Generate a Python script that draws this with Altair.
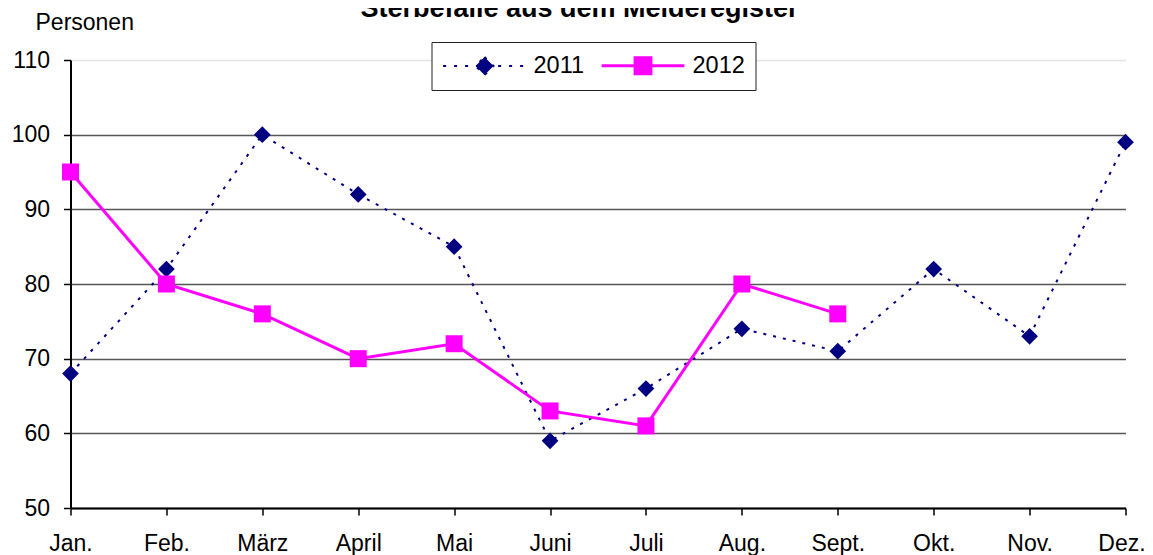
import altair as alt
import pandas as pd

months = ["Jan.", "Feb.", "März", "April", "Mai", "Juni", "Juli", "Aug.", "Sept.", "Okt.", "Nov.", "Dez."]
werte_2011 = [68, 82, 100, 92, 85, 59, 66, 74, 71, 82, 73, 99]
werte_2012 = [95, 80, 76, 70, 72, 63, 61, 80, 76]
years = ["2011", "2012"]
colors = ["#000080", "#FF00FF"]
y_ticks = [50, 60, 70, 80, 90, 100, 110]

rows = [{"Monat": m, "Jahr": "2011", "Wert": v} for m, v in zip(months, werte_2011)]
rows += [{"Monat": m, "Jahr": "2012", "Wert": v} for m, v in zip(months, werte_2012)]
df = pd.DataFrame(rows)

FONT = "Liberation Sans"

x = alt.X(
    "Monat:N",
    sort=months,
    scale=alt.Scale(type="point", padding=0, domain=months),
    axis=alt.Axis(
        title=None, labelAngle=0, labelFontSize=23, labelColor="black", labelFont=FONT,
        labelPadding=17, tickColor="black", tickSize=7, tickWidth=1.5,
        labelOffset={"condition": {"test": "datum.value === 'Dez.'", "value": -4}, "value": 0},
        domainColor="black", domainWidth=2, grid=False,
    ),
)
y = alt.Y(
    "Wert:Q",
    scale=alt.Scale(domain=[50, 110], nice=False, zero=False),
    axis=alt.Axis(
        values=y_ticks, title="Personen", titleAngle=0, titleAlign="left",
        titleBaseline="alphabetic", titleX=-35.5, titleY=-31, titleFontSize=23,
        titleFontWeight="normal", titleFont=FONT, titleColor="black",
        labelFontSize=23, labelFont=FONT, labelColor="black", labelPadding=14,
        tickColor="black", tickSize=7, tickWidth=1.5,
        domainColor="black", domainWidth=2,
        grid=True,
        gridColor={"condition": {"test": "datum.value === 110", "value": "#e4e4e4"}, "value": "#555555"},
        gridWidth=1.5,
    ),
)

base = alt.Chart(df)
f11 = alt.datum.Jahr == "2011"
f12 = alt.datum.Jahr == "2012"

line11 = base.transform_filter(f11).mark_line(color=colors[0], strokeWidth=2, strokeDash=[3, 7]).encode(x=x, y=y)
pts11 = base.transform_filter(f11).mark_point(shape="diamond", filled=True, size=280, color=colors[0], opacity=1).encode(x=x, y=y)
line12 = base.transform_filter(f12).mark_line(color=colors[1], strokeWidth=3).encode(x=x, y=y)
pts12 = base.transform_filter(f12).mark_point(shape="square", filled=True, size=289, color=colors[1], opacity=1).encode(x=x, y=y)

# legend glyphs: line segment plus marker (unit = 12 px at symbolSize 576)
path11 = "M-3.45,0L3.45,0M0,-0.75L0.75,0L0,0.75L-0.75,0Z"
path12 = "M-3.45,0L3.45,0M-0.66,-0.66L0.66,-0.66L0.66,0.66L-0.66,0.66Z"

leg = alt.Legend(title=None)
legend_layer = base.transform_filter("false").mark_point(filled=True, opacity=1).encode(
    x=x, y=y,
    color=alt.Color("Jahr:N", scale=alt.Scale(domain=years, range=colors), legend=leg),
    stroke=alt.Stroke("Jahr:N", scale=alt.Scale(domain=years, range=colors), legend=leg),
    shape=alt.Shape("Jahr:N", scale=alt.Scale(domain=years, range=[path11, path12]), legend=leg),
    strokeDash=alt.StrokeDash("Jahr:N", scale=alt.Scale(domain=years, range=[[3, 8], [1, 0]]), legend=leg),
    strokeWidth=alt.StrokeWidth("Jahr:N", scale=alt.Scale(domain=years, range=[2, 3]), legend=leg),
)

chart = alt.layer(line11, pts11, line12, pts12, legend_layer).properties(
    width=1055,
    height=448,
    title=alt.Title(
        "Sterbefälle aus dem Melderegister", fontSize=27, fontWeight="bold", font=FONT,
        color="black", anchor="middle", frame="group", baseline="alphabetic", offset=-33, dx=-18.5,
    ),
    autosize=alt.AutoSizeParams(type="none"),
    padding={"left": 62.5, "top": 52, "right": 19, "bottom": 48},
).configure_view(stroke=None).configure_legend(
    orient="none", legendX=361, legendY=-18, direction="horizontal",
    fillColor="white", strokeColor="#222222", padding=10,
    labelFontSize=23.5, labelFont=FONT, labelColor="black", labelOffset=36,
    symbolOffset=30, columnPadding=11, symbolSize=576,
)

chart.save("out.html", embed_options={"renderer": "svg", "actions": False})
